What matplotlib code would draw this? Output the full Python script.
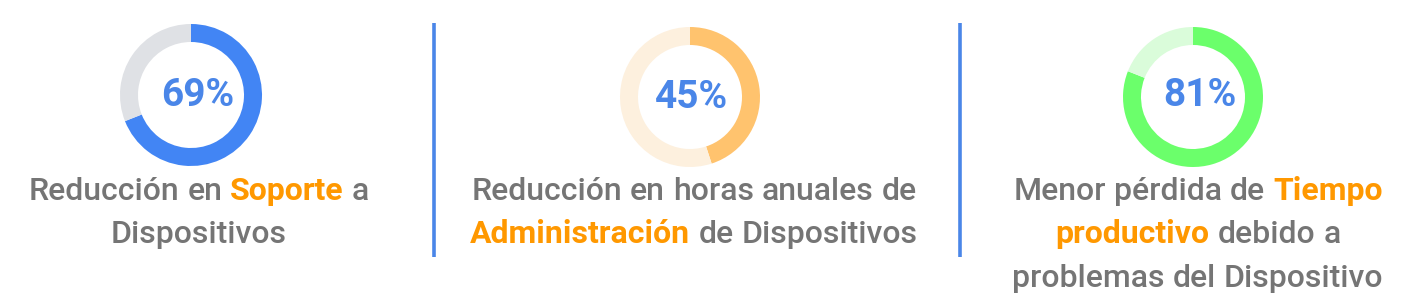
import matplotlib
matplotlib.use("Agg")
import matplotlib.pyplot as plt

# ---- data ----
percents = [69, 45, 81]
labels_pct = ["69%", "45%", "81%"]
main_colors = ["#4285F4", "#FFC36E", "#6BFF6B"]
rest_colors = ["#DFE1E5", "#FDF0DE", "#DAFCDA"]
captions = [
    [[("Reducción en ", "g"), ("Soporte", "o"), (" a", "g")],
     [("Dispositivos", "g")]],
    [[("Reducción en horas anuales de", "g")],
     [("Administración", "o"), (" de Dispositivos", "g")]],
    [[("Menor pérdida de ", "g"), ("Tiempo", "o")],
     [("productivo", "o"), (" debido a", "g")],
     [("problemas del Dispositivo", "g")]],
]

W, H = 1406, 308
DPI = 100
GRAY = "#757575"
ORANGE = "#FF9800"
PCT_BLUE = "#4A86E8"
FONT = "Roboto"
CAP_FS = 23

fig = plt.figure(figsize=(W / DPI, H / DPI), dpi=DPI)
fig.patch.set_facecolor("white")
base = fig.add_axes([0, 0, 1, 1])
base.set_xlim(0, W)
base.set_ylim(H, 0)
base.axis("off")

# donut geometry (pixels)
centers = [(191, 95), (690, 97), (1193, 97)]
radii = [71, 70, 70]
ring = 18
pct_pos = [(198, 96), (692, 97), (1200, 96)]

for i in range(3):
    cx, cy = centers[i]
    r = radii[i]
    ax = fig.add_axes([(cx - r) / W, (H - cy - r) / H, 2 * r / W, 2 * r / H])
    ax.pie([percents[i], 100 - percents[i]], colors=[main_colors[i], rest_colors[i]],
           startangle=90, counterclock=False, radius=1,
           wedgeprops=dict(width=ring / r, linewidth=0))
    ax.set_xlim(-1, 1)
    ax.set_ylim(-1, 1)
    ax.set_aspect("auto")
    ax.axis("off")
    base.text(pct_pos[i][0], pct_pos[i][1], labels_pct[i], color=PCT_BLUE,
              fontsize=28, fontweight="bold", family=FONT,
              ha="center", va="center", zorder=5)

# separators
for x in [434, 960]:
    base.plot([x, x], [23, 257], color="#4A86E8", lw=2.6, solid_capstyle="butt")

# captions with mixed colors
fig.canvas.draw()
renderer = fig.canvas.get_renderer()

def text_w(s, weight):
    t = base.text(0, 0, s, fontsize=CAP_FS, family=FONT, fontweight=weight)
    bb = t.get_window_extent(renderer=renderer)
    t.remove()
    return bb.width

caption_x = [199, 694, 1198]
baselines = [200, 243, 287]
GW, OW = "medium", "bold"

for i, lines in enumerate(captions):
    for j, segs in enumerate(lines):
        words = []
        for s, c in segs:
            for p in s.split(" "):
                if p:
                    words.append((p, c))
        weights = [OW if c == "o" else GW for _, c in words]
        widths = [text_w(p, w) for (p, _), w in zip(words, weights)]
        sp = text_w("x x", GW) - text_w("xx", GW)
        total = sum(widths) + sp * (len(words) - 1)
        x = caption_x[i] - total / 2
        for (p, c), w, wt in zip(words, widths, weights):
            base.text(x, baselines[j], p, fontsize=CAP_FS, family=FONT, fontweight=wt,
                      color=ORANGE if c == "o" else GRAY, ha="left", va="baseline")
            x += w + sp

fig.savefig("out.png", dpi=DPI, facecolor="white")
